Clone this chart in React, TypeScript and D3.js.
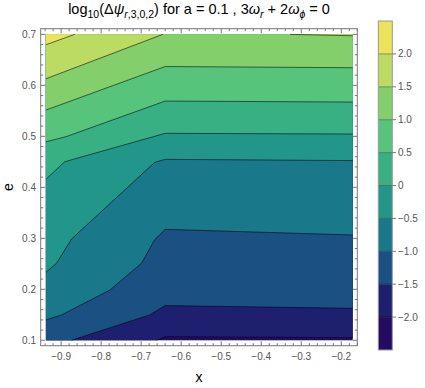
import React from "react";
import * as d3 from "d3";

const width = 425;
const height = 388;
const font = "'Liberation Sans', Arial, sans-serif";

// data range of the sampled grid
const xDomain = [-0.938, -0.1715];
const eDomain = [0.1, 0.7];

const levels = [-2.0, -1.5, -1.0, -0.5, 0, 0.5, 1.0, 1.5, 2.0];
const bandColors = ["#230b62", "#1e1f6e", "#1a5182", "#19798a", "#23968a", "#39af84", "#56c47a", "#83cf6b", "#bbdb62", "#ebe35a"];
const barTicks = [-2.0, -1.5, -1.0, -0.5, 0, 0.5, 1.0, 1.5, 2.0];
const barLabels = ["\u22122.0", "\u22121.5", "\u22121.0", "\u22120.5", "0", "0.5", "1.0", "1.5", "2.0"];
const xTicks = [-0.9, -0.8, -0.7, -0.6, -0.5, -0.4, -0.3, -0.2];
const yTicks = [0.1, 0.2, 0.3, 0.4, 0.5, 0.6, 0.7];

// isolines: [x, e] points, higher values on the left of travel
const lineM20 = [[[-0.6615, 0.1], [-0.64, 0.107], [-0.1715, 0.1052]]];
const lineM15 = [[[-0.874, 0.1], [-0.679, 0.1497], [-0.64, 0.168], [-0.1715, 0.1627]]];
const lineM10 = [[[-0.938, 0.14], [-0.899, 0.1497], [-0.778, 0.1986], [-0.699, 0.2512], [-0.666, 0.2975], [-0.64, 0.3176], [-0.1715, 0.3065]]];
const lineM05 = [[[-0.938, 0.2333], [-0.9115, 0.251], [-0.874, 0.2986], [-0.666, 0.449], [-0.64, 0.4549], [-0.1715, 0.4524]]];
const line00 = [[[-0.938, 0.4157], [-0.891, 0.4502], [-0.64, 0.5059], [-0.1715, 0.5045]]];
const line05 = [[[-0.938, 0.4892], [-0.887, 0.4995], [-0.64, 0.5692], [-0.1715, 0.5672]]];
const line10 = [[[-0.938, 0.5515], [-0.64, 0.6369], [-0.1715, 0.6346]]];
const line15 = [[[-0.938, 0.6129], [-0.646, 0.7]], [[-0.328, 0.7], [-0.1715, 0.6973]]];
const line20 = [[[-0.938, 0.6796], [-0.866, 0.7]]];
const isolines = [lineM20, lineM15, lineM10, lineM05, line00, line05, line10, line15, line20];

const xs = d3.scaleLinear().domain([-0.951, -0.16]).range([40.7, 357.3]);
const ys = d3.scaleLinear().domain([0.0894, 0.7111]).range([345.7, 28.7]);
const cs = d3.scaleLinear().domain([-2.5, 2.5]).range([350, 21]);

const W = xDomain[1] - xDomain[0];
const H = eDomain[1] - eDomain[0];
const corners = [
  [xDomain[0], eDomain[0]],
  [xDomain[1], eDomain[0]],
  [xDomain[1], eDomain[1]],
  [xDomain[0], eDomain[1]],
];

// position along the boundary, counter-clockwise from bottom-left
function perim(p: number[]) {
  const [x, e] = p;
  const eps = 1e-6;
  if (Math.abs(e - eDomain[0]) < eps) return (x - xDomain[0]) / W;
  if (Math.abs(x - xDomain[1]) < eps) return 1 + (e - eDomain[0]) / H;
  if (Math.abs(e - eDomain[1]) < eps) return 2 + (xDomain[1] - x) / W;
  return 3 + (eDomain[1] - e) / H;
}

function region(seg: number[][]) {
  const tEnd = perim(seg[seg.length - 1]);
  let tStart = perim(seg[0]);
  if (tStart <= tEnd) tStart += 4;
  const pts = seg.slice();
  for (let k = Math.floor(tEnd) + 1; k < tStart; k++) pts.push(corners[k % 4]);
  return pts;
}

const line = d3.line<number[]>().x(d => xs(d[0])).y(d => ys(d[1]));

function range(a: number, b: number, s: number) {
  const out: number[] = [];
  for (let v = a; v <= b + 1e-9; v += s) out.push(+v.toFixed(4));
  return out;
}
const xMinor = range(-0.94, -0.16, 0.02);
const yMinor = range(0.1, 0.7, 0.02);

export default function App() {
  const fx0 = 40.7, fx1 = 357.3, fy0 = 28.7, fy1 = 345.7;
  const isMajor = (v: number, ticks: number[]) => ticks.some(t => Math.abs(t - v) < 1e-6);
  return (
    <svg width={width} height={height} style={{ position: "absolute", left: 0, top: 0, background: "#fff" }} fontFamily={font}>
      {/* title */}
      <text x={199} y={14} textAnchor="middle" fontSize={14.5} fill="#000">
        log<tspan fontSize={10.5} dy={3.5}>10</tspan>
        <tspan dy={-3.5}>(Δ</tspan>
        <tspan fontStyle="italic">ψ</tspan>
        <tspan fontSize={10.5} dy={3.5}><tspan fontStyle="italic">r</tspan>,3,0,2</tspan>
        <tspan dy={-3.5}>) for a = 0.1 , 3</tspan>
        <tspan fontStyle="italic">ω</tspan>
        <tspan fontSize={10.5} fontStyle="italic" dy={3.5}>r</tspan>
        <tspan dy={-3.5}> + 2</tspan>
        <tspan fontStyle="italic">ω</tspan>
        <tspan fontSize={10.5} fontStyle="italic" dy={3.5}>ϕ</tspan>
        <tspan dy={-3.5}> = 0</tspan>
      </text>

      {/* filled bands */}
      <rect x={xs(xDomain[0])} y={ys(eDomain[1])} width={xs(xDomain[1]) - xs(xDomain[0])} height={ys(eDomain[0]) - ys(eDomain[1])} fill={bandColors[0]} />
      {isolines.map((segs, i) =>
        segs.map((seg, j) => (
          <path key={`f${i}-${j}`} d={line(region(seg)) + "Z"} fill={bandColors[i + 1]} />
        ))
      )}
      {isolines.map((segs, i) =>
        segs.map((seg, j) => (
          <path key={`l${i}-${j}`} d={line(seg) || ""} fill="none" stroke="#000" strokeOpacity={0.55} strokeWidth={1} />
        ))
      )}

      {/* frame */}
      <rect x={fx0} y={fy0} width={fx1 - fx0} height={fy1 - fy0} fill="none" stroke="#777" strokeWidth={1} />
      {xMinor.map(v => {
        const len = isMajor(v, xTicks) ? 4.5 : 2.5;
        return (
          <g key={`xt${v}`} stroke="#777">
            <line x1={xs(v)} x2={xs(v)} y1={fy1} y2={fy1 - len} />
            <line x1={xs(v)} x2={xs(v)} y1={fy0} y2={fy0 + len} />
          </g>
        );
      })}
      {yMinor.map(v => {
        const len = isMajor(v, yTicks) ? 4.5 : 2.5;
        return (
          <g key={`yt${v}`} stroke="#777">
            <line x1={fx0} x2={fx0 + len} y1={ys(v)} y2={ys(v)} />
            <line x1={fx1} x2={fx1 - len} y1={ys(v)} y2={ys(v)} />
          </g>
        );
      })}
      {xTicks.map(v => (
        <text key={`xl${v}`} x={xs(v)} y={360} textAnchor="middle" fontSize={10} fill="#555">
          {d3.format(".1f")(v).replace("-", "\u2212")}
        </text>
      ))}
      {yTicks.map(v => (
        <text key={`yl${v}`} x={36} y={ys(v) + 3.5} textAnchor="end" fontSize={10} fill="#555">
          {d3.format(".1f")(v)}
        </text>
      ))}

      {/* axis labels */}
      <text x={199} y={382} textAnchor="middle" fontSize={14} fill="#000">x</text>
      <text transform={`translate(13,187) rotate(-90)`} textAnchor="middle" fontSize={14} fill="#000">e</text>

      {/* colour bar */}
      {bandColors.map((c, i) => (
        <rect key={`cb${i}`} x={378.3} y={cs(-2.5 + 0.5 * (i + 1))} width={14} height={cs(-2.5 + 0.5 * i) - cs(-2.5 + 0.5 * (i + 1))} fill={c} />
      ))}
      {levels.map(v => (
        <line key={`cs${v}`} x1={378.3} x2={392.3} y1={cs(v)} y2={cs(v)} stroke="#000" strokeOpacity={0.45} strokeWidth={0.8} />
      ))}
      <rect x={378.3} y={cs(2.5)} width={14} height={cs(-2.5) - cs(2.5)} fill="none" stroke="#999" strokeWidth={1} />
      {barTicks.map((v, i) => (
        <g key={`bt${v}`}>
          <line x1={392.3} x2={396} y1={cs(v)} y2={cs(v)} stroke="#777" />
          <text x={398} y={cs(v) + 3.5} fontSize={10} fill="#555">{barLabels[i]}</text>
        </g>
      ))}
    </svg>
  );
}
